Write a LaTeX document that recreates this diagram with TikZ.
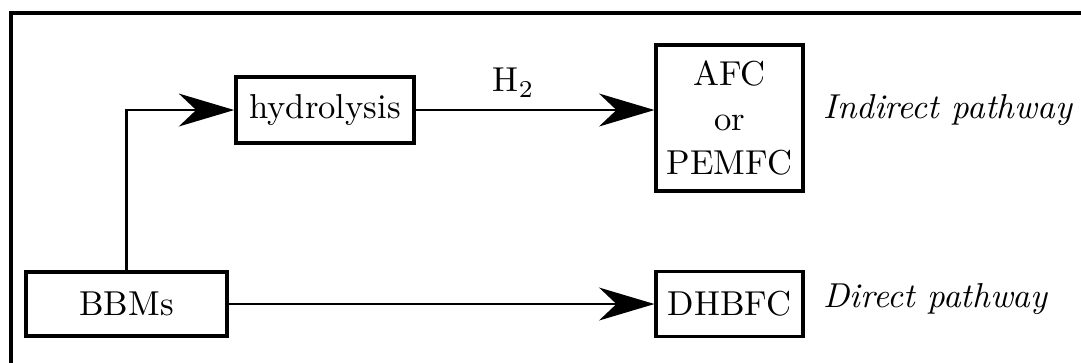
\documentclass[tikz,border=0pt]{standalone}
\usetikzlibrary{arrows.meta}
\begin{document}
\begin{tikzpicture}[box/.style={draw,line width=1pt,inner sep=0pt,align=center},
flow/.style={line width=0.8pt,-{Stealth[length=16pt,width=9.5pt,inset=5pt]}}]
\useasboundingbox (0,0) rectangle (10.983,3.688);
\draw [line width=1pt] (11.3,3.556) -- (0.112,3.556) -- (0.112,-0.3);
\node [box,minimum width=2.04cm,minimum height=0.65cm] (bbm) at (1.285,0.599) {BBMs};
\node [box,minimum width=1.81cm,minimum height=0.67cm] (hyd) at (3.302,2.570) {hydrolysis};
\node [box,minimum width=1.49cm,minimum height=1.48cm] (afc) at (7.412,2.489) {AFC\\[1pt] or\\[1pt] PEMFC};
\node [box,minimum width=1.49cm,minimum height=0.66cm] (dhb) at (7.412,0.599) {DHBFC};
\node [anchor=base west,inner sep=0pt] (ind) at (8.362,2.489) {\textit{Indirect pathway}};
\node [anchor=base west,inner sep=0pt] (dir) at (8.362,0.559) {\textit{Direct pathway}};
\draw [flow] (bbm.north) |- (hyd.west);
\draw [flow] (hyd.east) -- node [pos=0.41,above] {H$_2$} (hyd.east -| afc.west);
\draw [flow] (bbm.east) -- (bbm.east -| dhb.west);
\end{tikzpicture}
\end{document}
